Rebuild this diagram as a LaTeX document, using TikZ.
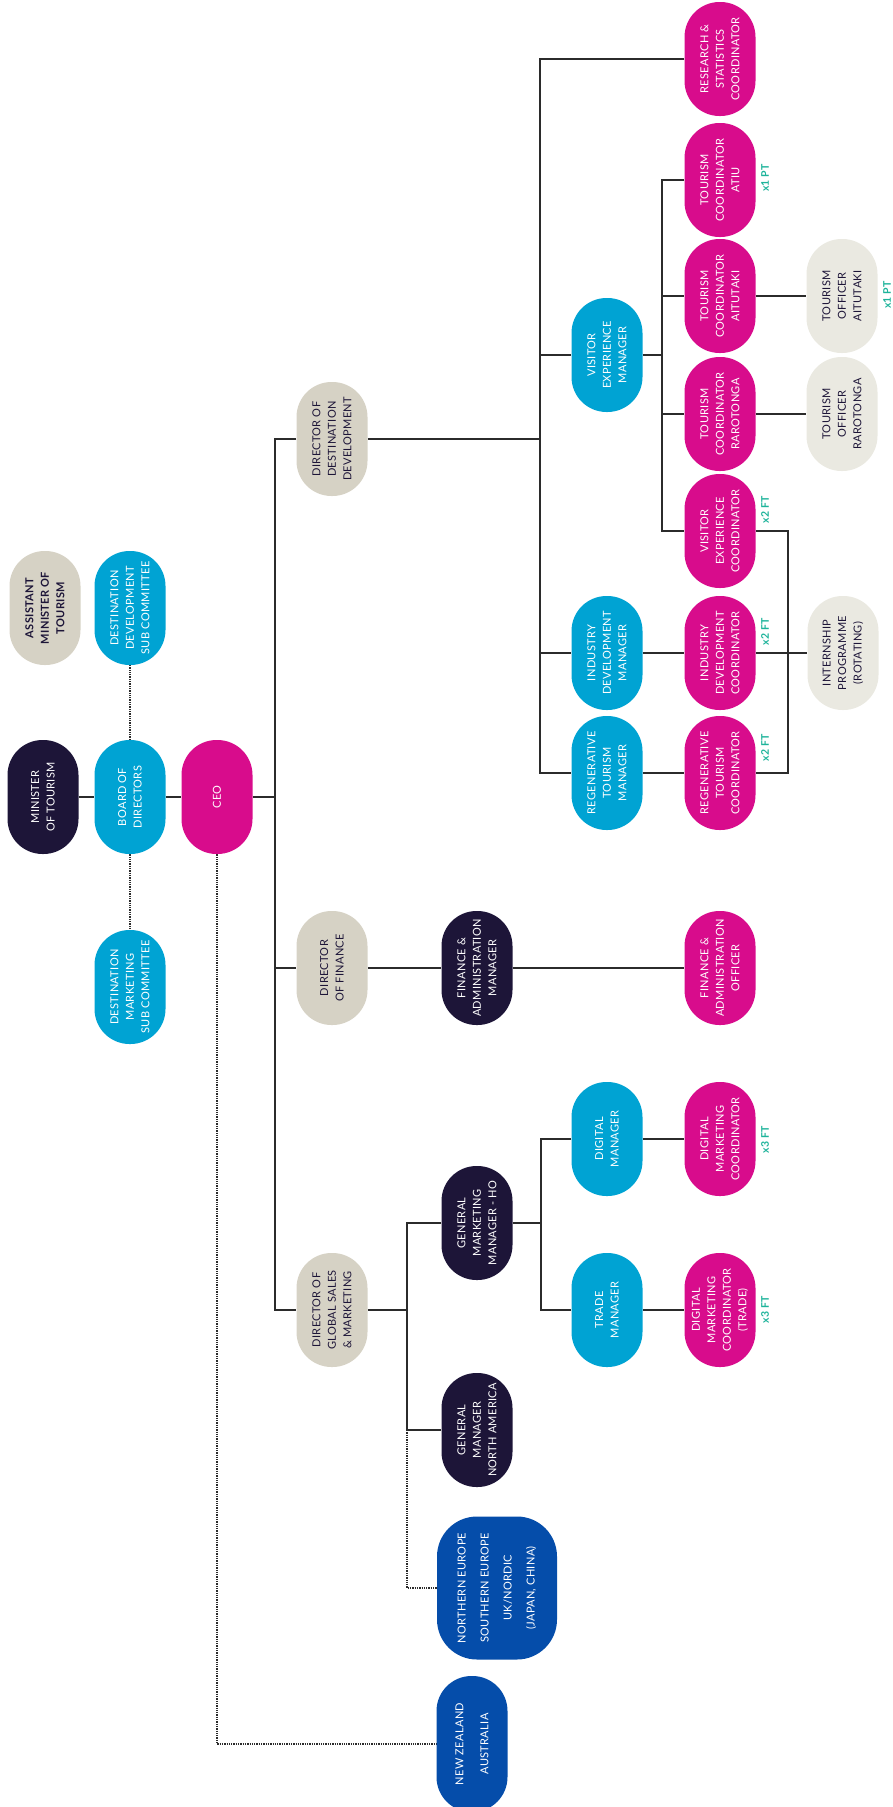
\documentclass[tikz,border=0pt]{standalone}
\usepackage{fontspec}
\setmainfont{Lato}[LetterSpace=3]
\usetikzlibrary{positioning}
\usetikzlibrary{backgrounds}
\definecolor{ctmagenta}{HTML}{D80C8C}
\definecolor{ctcyan}{HTML}{00A3D3}
\definecolor{ctnavy}{HTML}{1D1538}
\definecolor{ctbeige}{HTML}{D6D2C5}
\definecolor{ctlight}{HTML}{EAE9E1}
\definecolor{ctroyal}{HTML}{054DAA}
\definecolor{ctteal}{HTML}{1DB39A}
\definecolor{linegray}{HTML}{2B2B2B}
\tikzstyle{pill}=[rectangle, rounded corners=35pt, minimum width=114pt, minimum height=71pt, inner sep=2pt, rotate=90, align=center, text=white, font=\fontsize{11}{15.5}\selectfont]
\tikzstyle{magentapill}=[pill, fill=ctmagenta]
\tikzstyle{cyanpill}=[pill, fill=ctcyan]
\tikzstyle{navypill}=[pill, fill=ctnavy]
\tikzstyle{beigepill}=[pill, fill=ctbeige, text=ctnavy]
\tikzstyle{lightpill}=[pill, fill=ctlight, text=ctnavy]
\tikzstyle{regionpill}=[pill, fill=ctroyal]
\tikzstyle{fte}=[rotate=90, inner sep=1pt, text=ctteal, font=\fontsize{10.5}{12}\selectfont\bfseries]
\tikzstyle{link}=[draw, line width=1.3pt, linegray]
\tikzstyle{dottedlink}=[draw, line width=1.3pt, densely dotted, linegray]

\begin{document}
\begin{tikzpicture}[x=1pt, y=-1pt]
    \useasboundingbox (0,0) rectangle (892,1807);

    % Governance column
    \node[beigepill, font=\fontsize{11}{15.5}\selectfont\bfseries] (atm) at (45,608) {ASSISTANT\\MINISTER OF\\TOURISM};
    \node[navypill] (mot) at (43,797) {MINISTER\\OF TOURISM};
    \foreach \pos/\name/\label in {{(130,608)/ddsc/DESTINATION\\DEVELOPMENT\\SUB COMMITTEE}, {(130,797)/bod/BOARD OF\\DIRECTORS}, {(130,987)/dmsc/DESTINATION\\MARKETING\\SUB COMMITTEE}}
        \node[cyanpill] (\name) at \pos {\label};
    \node[magentapill] (ceo) at (217,797) {CEO};

    % Directors
    \foreach \pos/\name/\label in {{(332,439)/ddd/DIRECTOR OF\\DESTINATION\\DEVELOPMENT}, {(332,968)/dfin/DIRECTOR\\OF FINANCE}, {(332,1310)/dgsm/DIRECTOR OF\\GLOBAL SALES\\\& MARKETING}}
        \node[beigepill] (\name) at \pos {\label};

    % Managers
    \foreach \pos/\name/\label in {{(477,968)/fam/FINANCE \&\\ADMINISTRATION\\MANAGER}, {(477,1223)/gmm/GENERAL\\MARKETING\\MANAGER - HO}, {(477,1430)/gmna/GENERAL\\MANAGER\\NORTH AMERICA}}
        \node[navypill] (\name) at \pos {\label};
    \foreach \pos/\name/\label in {{(607,355)/vem/VISITOR\\EXPERIENCE\\MANAGER}, {(607,653)/idm/INDUSTRY\\DEVELOPMENT\\MANAGER}, {(607,773)/rtm/REGENERATIVE\\TOURISM\\MANAGER}, {(607,1139)/digm/DIGITAL\\MANAGER}, {(607,1310)/tradem/TRADE\\MANAGER}}
        \node[cyanpill] (\name) at \pos {\label};

    % Coordinators
    \foreach \pos/\name/\label in {{(720,59)/rsc/RESEARCH \&\\STATISTICS\\COORDINATOR}, {(720,180)/tca/TOURISM\\COORDINATOR\\ATIU}, {(720,296)/tcai/TOURISM\\COORDINATOR\\AITUTAKI}, {(720,414)/tcr/TOURISM\\COORDINATOR\\RAROTONGA}, {(720,531)/vec/VISITOR\\EXPERIENCE\\COORDINATOR}, {(720,653)/idc/INDUSTRY\\DEVELOPMENT\\COORDINATOR}, {(720,773)/rtc/REGENERATIVE\\TOURISM\\COORDINATOR}, {(720,968)/fao/FINANCE \&\\ADMINISTRATION\\OFFICER}, {(720,1139)/dmc/DIGITAL\\MARKETING\\COORDINATOR}, {(720,1310)/dmct/DIGITAL\\MARKETING\\COORDINATOR\\(TRADE)}}
        \node[magentapill] (\name) at \pos {\label};
    \foreach \pos/\name/\label in {{(842,296)/toai/TOURISM\\OFFICER\\AITUTAKI}, {(842,414)/tor/TOURISM\\OFFICER\\RAROTONGA}, {(843,653)/intern/INTERNSHIP\\PROGRAMME\\(ROTATING)}}
        \node[lightpill] (\name) at \pos {\label};

    % Markets
    \node[regionpill, rounded corners=40pt, minimum width=143pt, minimum height=120pt, font=\fontsize{11}{23}\selectfont] (eur) at (497,1588) {NORTHERN EUROPE\\SOUTHERN EUROPE\\UK/NORDIC\\(JAPAN, CHINA)};
    \node[regionpill, minimum width=136pt, font=\fontsize{11}{25}\selectfont] (nz) at (472,1744) {NEW ZEALAND\\AUSTRALIA};

    % Staffing notes
    \foreach \pos/\name/\label in {{(765,178)/ptatiu/x1 PT}, {(887,295)/ptaitu/x1 PT}, {(765,510)/ftvisit/x2 FT}, {(765,632)/ftind/x2 FT}, {(765,748)/ftregen/x2 FT}, {(765,1140)/ftdigital/x3 FT}, {(765,1310)/fttrade/x3 FT}}
        \node[fte] (\name) at \pos {\label};

    % Branch points
    \coordinate (trunk) at (275,797);
    \coordinate (ddvert) at (540,439);
    \coordinate (vevert) at (662,355);
    \coordinate (covert) at (788,653);
    \coordinate (gsvert) at (407,1310);
    \coordinate (gmvert) at (541,1223);

    \begin{scope}[on background layer]
    % Reporting lines
    \path[link] (mot) -- (bod) -- (ceo) -- (trunk);
    \path[link] (ddd) -| (trunk) |- (dgsm);
    \path[link] (trunk) |- (dfin);
    \path[link] (ddd) -- (ddvert);
    \path[link] (rsc) -| (ddvert) |- (rtm);
    \foreach \dest in {vem, idm}
        \path[link] (ddvert) |- (\dest);
    \path[link] (vem) -- (vevert);
    \path[link] (tca) -| (vevert) |- (vec);
    \foreach \dest in {tcai, tcr}
        \path[link] (vevert) |- (\dest);
    \path[link] (vec) -| (covert) |- (rtc);
    \path[link] (dgsm) -- (gsvert);
    \path[link] (gmm) -| (gsvert) |- (gmna);
    \path[link] (gmm) -- (gmvert);
    \path[link] (digm) -| (gmvert) |- (tradem);
    \foreach \source/\dest in {tcai/toai, tcr/tor, idm/idc, idc/intern, rtm/rtc, dfin/fam, fam/fao, digm/dmc, tradem/dmct}
        \path[link] (\source) -- (\dest);
    % Advisory lines
    \path[dottedlink] (bod) -- (ddsc);
    \path[dottedlink] (bod) -- (dmsc);
    \path[dottedlink] (ceo) |- (nz);
    \path[dottedlink] (gsvert |- gmna) |- (eur);
    \end{scope}
\end{tikzpicture}
\end{document}
